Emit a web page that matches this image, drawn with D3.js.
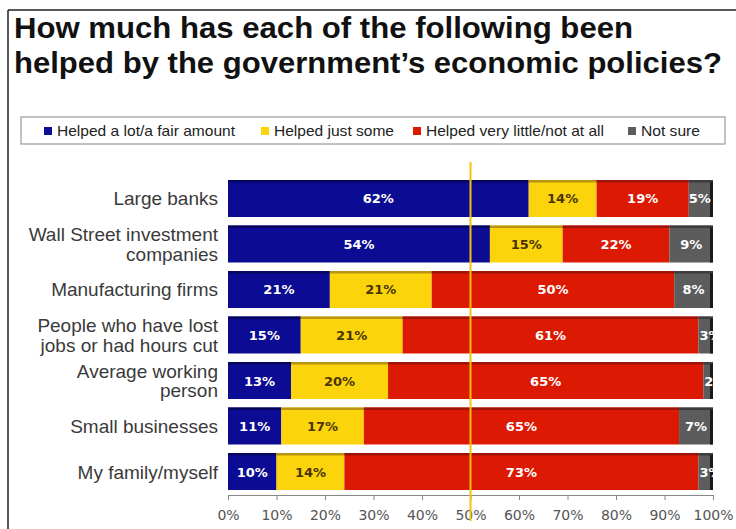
<!DOCTYPE html>
<html>
<head>
<meta charset="utf-8">
<script src="https://cdn.jsdelivr.net/npm/d3@7"></script>
<style>
  body { margin: 0; background: #fff; }
  svg { display: block; font-family: "Liberation Sans", Arial, sans-serif; }
</style>
</head>
<body>
<div id="chart"></div>
<script>
const categories = [
  ["Large banks"],
  ["Wall Street investment", "companies"],
  ["Manufacturing firms"],
  ["People who have lost", "jobs or had hours cut"],
  ["Average working", "person"],
  ["Small businesses"],
  ["My family/myself"]
];
const seriesNames = ["Helped a lot/a fair amount", "Helped just some", "Helped very little/not at all", "Not sure"];
const helpedLot = [62, 54, 21, 15, 13, 11, 10];
const helpedSome = [14, 15, 21, 21, 20, 17, 14];
const helpedLittle = [19, 22, 50, 61, 65, 65, 73];
const notSure = [5, 9, 8, 3, 2, 7, 3];
const tickValues = [0, 10, 20, 30, 40, 50, 60, 70, 80, 90, 100];

const colors = ["#0b0b94", "#fbd40c", "#dc1a04", "#5c5c5c"];
const topShade = ["#06065e", "#b89412", "#9e1408", "#3c3c3c"];
const labelColors = ["#fff", "#4a3400", "#fff", "#fff"];

const width = 736, height = 529;
const svg = d3.select("#chart").append("svg")
  .attr("width", width).attr("height", height);

// frame
svg.append("line").attr("x1", 8).attr("x2", width).attr("y1", 10).attr("y2", 10)
  .attr("stroke", "#222").attr("stroke-width", 1.5);
svg.append("line").attr("x1", 8).attr("x2", 8).attr("y1", 10).attr("y2", height)
  .attr("stroke", "#222").attr("stroke-width", 1.5);

// title
const title = svg.append("text").attr("y", 38)
  .attr("font-size", 29).attr("font-weight", "bold").attr("fill", "#111");
title.append("tspan").attr("x", 14).attr("textLength", 619).attr("lengthAdjust", "spacingAndGlyphs")
  .text("How much has each of the following been");
title.append("tspan").attr("x", 14).attr("dy", 35).attr("textLength", 708).attr("lengthAdjust", "spacingAndGlyphs")
  .text("helped by the government\u2019s economic policies?");

// legend
svg.append("rect").attr("x", 21).attr("y", 117).attr("width", 704).attr("height", 27)
  .attr("fill", "#fff").attr("stroke", "#999").attr("stroke-width", 1.2);
const legendX = [44, 261, 413, 628];
const legendW = [178, 120, 178, 59];
const legend = svg.append("g").selectAll("g").data(seriesNames).join("g")
  .attr("transform", (d, i) => `translate(${legendX[i]},131)`);
legend.append("rect").attr("x", 0).attr("y", -4).attr("width", 8).attr("height", 8)
  .attr("fill", (d, i) => colors[i]);
legend.append("text").attr("x", 13).attr("y", 5).attr("font-size", 14.5)
  .attr("textLength", (d, i) => legendW[i]).attr("lengthAdjust", "spacingAndGlyphs")
  .attr("fill", "#222").text(d => d);

// scales
const x = d3.scaleLinear().domain([0, 100]).range([228, 713]);
const y = d3.scaleBand().domain(d3.range(categories.length)).range([176, 494])
  .paddingInner(0.187).paddingOuter(0.088);

const rows = categories.map((c, i) => {
  const vals = [helpedLot[i], helpedSome[i], helpedLittle[i], notSure[i]];
  let acc = 0;
  return vals.map((v, k) => { const s = { row: i, k, v, x0: acc, x1: acc + v }; acc += v; return s; });
});

// category labels
const catG = svg.append("g");
categories.forEach((lines, i) => {
  const cy = y(i) + y.bandwidth() / 2;
  const lh = 19.5;
  const t = catG.append("text").attr("text-anchor", "end").attr("font-size", 19)
    .attr("fill", "#3a3a3a");
  lines.forEach((l, j) => {
    t.append("tspan").attr("x", 218)
      .attr("y", cy + 7 + (j - (lines.length - 1) / 2) * lh).text(l);
  });
});

// bars
svg.append("clipPath").attr("id", "barclip")
  .append("rect").attr("x", x(0)).attr("y", 0).attr("width", x(100) - x(0) + 1).attr("height", height);
const barG = svg.append("g").attr("clip-path", "url(#barclip)");
const seg = barG.selectAll("g.row").data(rows).join("g").attr("class", "row")
  .selectAll("g").data(d => d).join("g");
seg.append("rect")
  .attr("x", d => x(d.x0)).attr("y", d => y(d.row))
  .attr("width", d => x(d.x1) - x(d.x0)).attr("height", y.bandwidth())
  .attr("fill", d => colors[d.k]);
seg.append("rect")
  .attr("x", d => x(d.x0)).attr("y", d => y(d.row))
  .attr("width", d => x(d.x1) - x(d.x0)).attr("height", 2.5)
  .attr("fill", d => topShade[d.k]);
seg.filter(d => d.k === 3).append("rect")
  .attr("x", d => x(d.x1) - 3).attr("y", d => y(d.row) + 2)
  .attr("width", 3).attr("height", y.bandwidth() - 2)
  .attr("fill", "#1a1a1a");
seg.append("text")
  .attr("x", d => d.v < 5 ? x(d.x0) + 1 : (x(d.x0) + x(d.x1)) / 2 - (d.v === 5 ? 1 : 0))
  .attr("text-anchor", d => d.v < 5 ? "start" : "middle")
  .attr("y", d => y(d.row) + y.bandwidth() / 2 + 5)
  .attr("font-family", "'DejaVu Sans', Verdana, sans-serif")
  .attr("font-size", 13).attr("font-weight", "bold")
  .attr("fill", d => labelColors[d.k])
  .text(d => d.v + "%");

// axis
const axis = svg.append("g").attr("transform", "translate(0,495)")
  .call(d3.axisBottom(x).tickValues(tickValues).tickSize(5).tickSizeOuter(0)
    .tickFormat(d => d + "%"));
axis.select(".domain").attr("stroke", "#888");
axis.selectAll(".tick line").attr("stroke", "#888");
axis.selectAll(".tick text").attr("font-size", 14)
  .attr("font-family", "'DejaVu Sans', Verdana, sans-serif")
  .attr("fill", "#555").attr("y", 12).attr("dy", "0.9em");

// 50% reference line
svg.append("line").attr("x1", x(50)).attr("x2", x(50)).attr("y1", 162).attr("y2", 521)
  .attr("stroke", "#f5c20a").attr("stroke-width", 2);
</script>
</body>
</html>
